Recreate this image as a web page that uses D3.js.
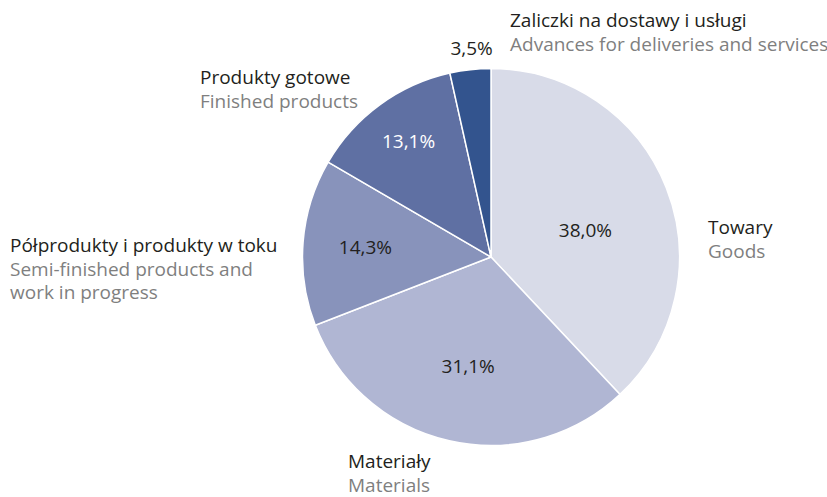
<!DOCTYPE html>
<html>
<head>
<meta charset="utf-8">
<script src="https://cdn.jsdelivr.net/npm/d3@7"></script>
<style>
  html, body { margin: 0; padding: 0; background: #fff; }
  svg { display: block; font-family: "Open Sans", "Noto Sans", sans-serif; }
</style>
</head>
<body>
<svg id="chart" width="827" height="497"></svg>
<script>
// Structure of inventories (share, %)
const namesPl = ["Towary", "Materiały", "Półprodukty i produkty w toku", "Produkty gotowe", "Zaliczki na dostawy i usługi"];
const namesEn = [["Goods"], ["Materials"], ["Semi-finished products and", "work in progress"], ["Finished products"], ["Advances for deliveries and services"]];
const shares = [38.0, 31.1, 14.3, 13.1, 3.5];
const colors = ["#d8dbe8", "#b0b6d3", "#8893bb", "#5f70a3", "#33548e"];
const valueColors = ["#231f20", "#231f20", "#231f20", "#ffffff", "#231f20"];

const svg = d3.select("#chart");
const cx = 491, cy = 257, R = 188.5;
const fontSize = 19;

const pie = d3.pie().sort(null).value(d => d)(shares);
const arc = d3.arc().innerRadius(0).outerRadius(R);

const g = svg.append("g").attr("transform", `translate(${cx},${cy})`);

g.selectAll("path.slice")
  .data(pie)
  .join("path")
  .attr("class", "slice")
  .attr("d", arc)
  .attr("fill", (d, i) => colors[i])
  .attr("stroke", "#fff")
  .attr("stroke-width", 1.5)
  .attr("stroke-linejoin", "round");

// value label placement: distance from the centre and angular nudge (degrees) per slice
const valueRadius = [98, 112, 126, 142, 210];
const valueNudge = [6, -1, 0, 0.7, 1];
const fmt = v => v.toFixed(1).replace(".", ",") + "%";
g.selectAll("text.value")
  .data(pie)
  .join("text")
  .attr("class", "value")
  .attr("transform", (d, i) => {
    const r = valueRadius[i];
    const a = (d.startAngle + d.endAngle) / 2 + valueNudge[i] * Math.PI / 180;
    return `translate(${r * Math.sin(a)},${-r * Math.cos(a)})`;
  })
  .attr("text-anchor", "middle")
  .attr("dy", "0.36em")
  .attr("font-size", fontSize)
  .attr("fill", (d, i) => valueColors[i])
  .text(d => fmt(d.data));

// category names (Polish, with English translation underneath)
const labelPos = [
  [708, 234],
  [348, 468],
  [10, 252],
  [200, 84],
  [510, 27]
];
const lineH = 23.5;
const labels = svg.selectAll("g.cat")
  .data(namesPl)
  .join("g")
  .attr("class", "cat")
  .attr("transform", (d, i) => `translate(${labelPos[i][0]},${labelPos[i][1]})`);

labels.append("text")
  .attr("font-size", fontSize)
  .attr("fill", "#231f20")
  .text(d => d);

labels.each(function(d, i) {
  d3.select(this).selectAll("text.en")
    .data(namesEn[i])
    .join("text")
    .attr("class", "en")
    .attr("y", (t, j) => (j + 1) * lineH)
    .attr("font-size", fontSize)
    .attr("fill", "#7f7f7f")
    .text(t => t);
});
</script>
</body>
</html>
